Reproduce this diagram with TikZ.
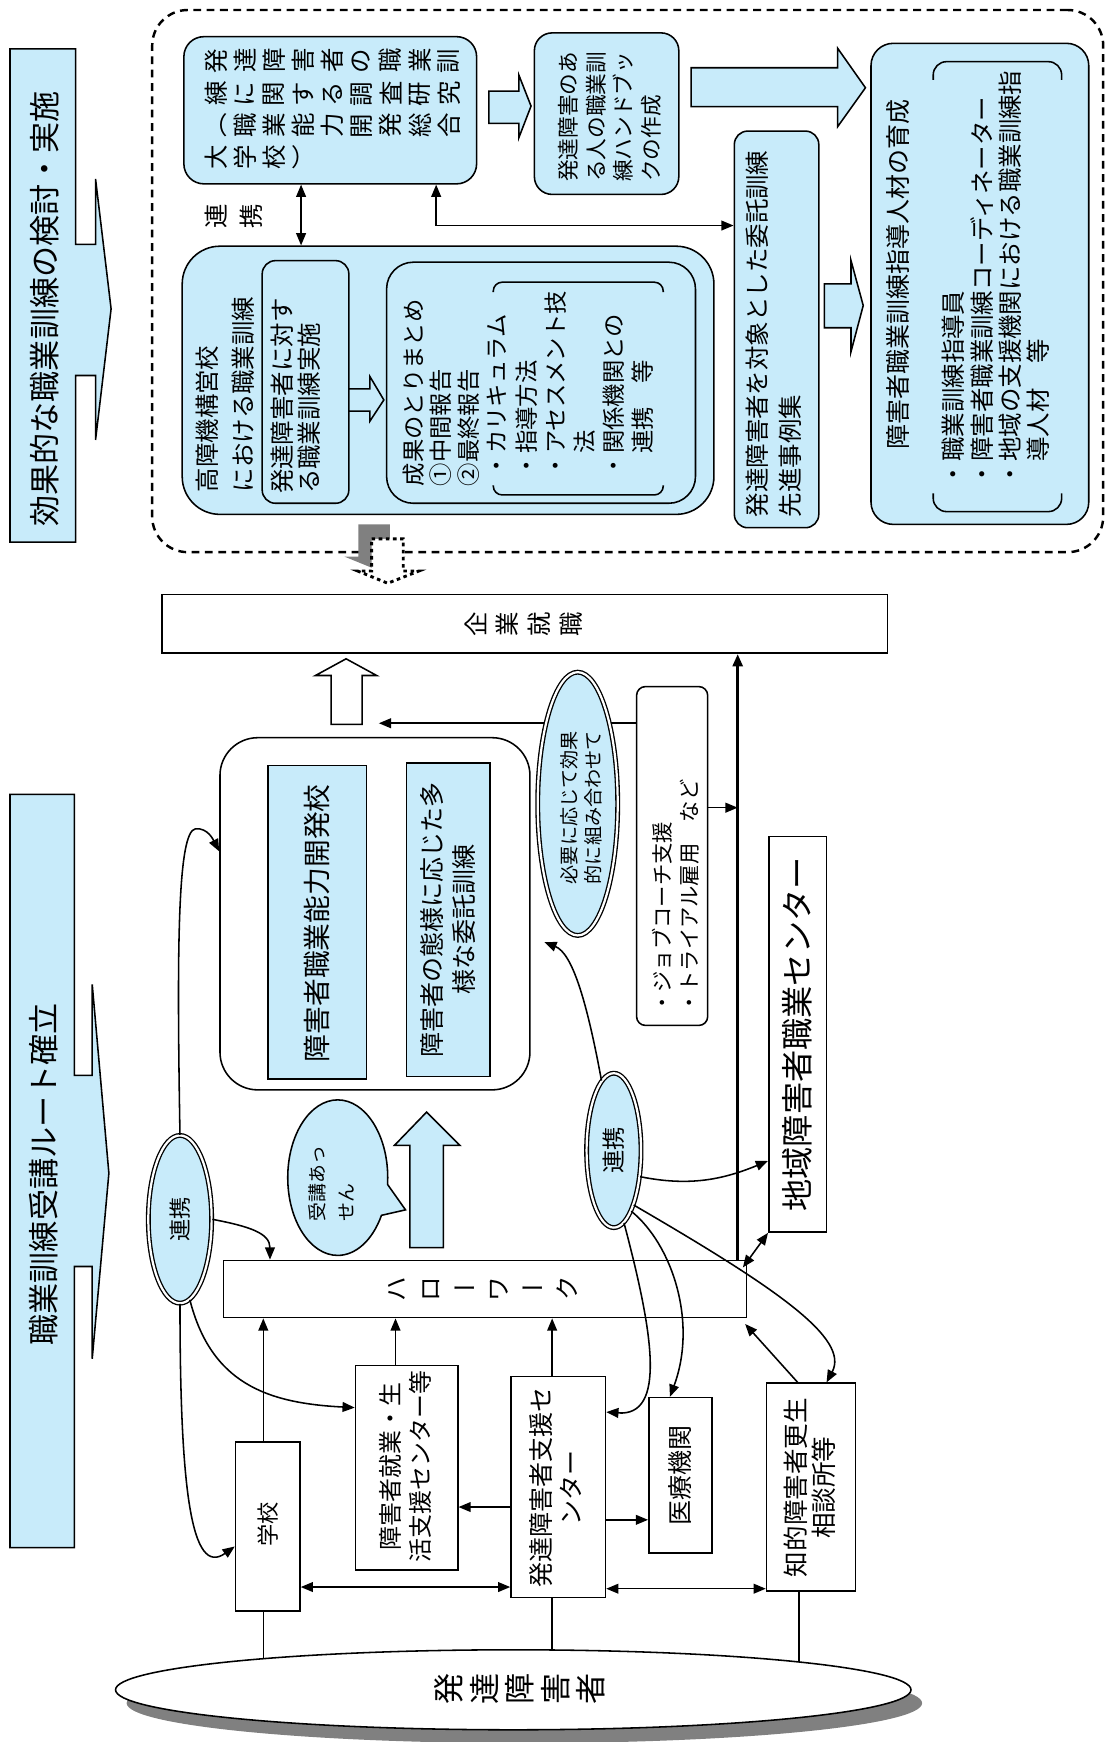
\documentclass[tikz,border=0pt]{standalone}
\usepackage{fontspec}
\setmainfont{Noto Sans CJK JP}
\usepackage{graphicx}
\usetikzlibrary{fit,shapes.geometric,shapes.callouts,arrows.meta,calc}
\definecolor{lb}{RGB}{200,235,250}
\definecolor{shd}{RGB}{128,128,128}
\ExplSyntaxOn
\cs_new_protected:Npn \rk_vchar:n #1
  {
    \str_case:nnF {#1}
      {
        {ー}{\makebox[1em]{ー}}
        {（}{\makebox[1em]{（}}
        {）}{\makebox[1em]{）}}
      }
      { \makebox[1em]{\rotatebox[origin=c]{90}{#1}} }
  }
\bool_new:N \l_rk_first_bool
\cs_new_protected:Npn \rk_vrow:nn #1#2
  {
    \bool_set_true:N \l_rk_first_bool
    \tl_map_inline:nn {#2}
      {
        \bool_if:NF \l_rk_first_bool { \hspace{#1} }
        \bool_set_false:N \l_rk_first_bool
        \rk_vchar:n {##1}
      }
  }
\NewDocumentCommand\vrow{mm}{\rk_vrow:nn{#1}{#2}}
\ExplSyntaxOff
\newcommand\myfs[2]{\fontsize{#1}{#2}\selectfont}
\tikzset{
  bx/.style={draw, line width=0.7pt, inner sep=0pt},
  bbx/.style={bx, fill=lb},
  vt/.style={rotate=90, inner sep=0pt, align=left},
  vtc/.style={rotate=90, inner sep=0pt, align=center},
  arr/.style={line width=0.7pt, -{Triangle[length=5.5pt,width=4.4pt]}},
  darr/.style={line width=0.7pt, {Triangle[length=5.5pt,width=4.4pt]}-{Triangle[length=5.5pt,width=4.4pt]}},
  blk/.style={draw, line width=0.7pt, line join=miter},
  dbl/.style={ellipse, draw, line width=0.6pt, double=white, double distance=1pt, fill=lb, inner sep=0pt},
  rowtxt/.style={inner sep=0pt},
}
\begin{document}
\begin{tikzpicture}[x=0.5pt,y=-0.5pt]
\useasboundingbox (0,0) rectangle (1001,1568);

% ---------- titles ----------
\draw[blk, fill=lb] (9,44) -- (68,44) -- (68,220) -- (86,220) -- (86,161) -- (100,278) -- (86,396) -- (86,338) -- (68,338) -- (68,488) -- (9,488) -- cycle;
\node[vtc, font=\myfs{14}{16}] (t1) at (40,278) {効果的な職業訓練の検討・実施};
\draw[blk, fill=lb] (9,715) -- (67,715) -- (67,968) -- (83,968) -- (83,886) -- (98,1056) -- (83,1223) -- (83,1140) -- (67,1140) -- (67,1393) -- (9,1393) -- cycle;
\node[vtc, font=\myfs{14}{16}] (t2) at (39,1057) {職業訓練受講ルート確立};

% ---------- upper dashed area ----------
\node[fit={(137,9) (993,497)}, inner sep=0pt, draw, line width=1.1pt, dash pattern=on 3.5pt off 2.5pt, rounded corners=16pt] (outer) {};

% Box A
\node[bbx, rounded corners=9pt, fit={(165.5,33) (429,165.5)}] (A) {};
\node[rowtxt, anchor=west, font=\myfs{11}{13}] (a1) at (183,55) {\vrow{2.1pt}{発達障害者の職業訓}};
\node[rowtxt, anchor=west, font=\myfs{11}{13}] (a2) at (183,84.5) {\vrow{2.1pt}{練に関する調査研究}};
\node[rowtxt, anchor=west, font=\myfs{11}{13}] (a3) at (183,113) {\vrow{2.1pt}{（職業能力開発総合}};
\node[rowtxt, anchor=west, font=\myfs{11}{13}] (a4) at (183,141.5) {\vrow{2.1pt}{大学校）}};
\node[rowtxt, font=\myfs{11}{13}] (rk) at (210.5,194.5) {\vrow{5pt}{連携}};

% Box B
\node[bbx, rounded corners=8pt, fit={(481,29.6) (611,175)}] (B) {};
\node[vt, anchor=west, font=\myfs{9.75}{12.35}] (bt) at (549,164) {発達障害のあ\\る人の職業訓\\練ハンドブッ\\クの作成};

% Box C
\node[bbx, rounded corners=6pt, fit={(661,118) (737,475)}] (C) {};
\node[vt, anchor=west, font=\myfs{11}{14.5}] (ct) at (696.5,466) {発達障害者を対象とした委託訓練\\先進事例集};

% Box D
\node[bbx, rounded corners=10pt, fit={(784,39) (980,472)}] (D) {};
\node[vt, anchor=west, font=\myfs{11.25}{13}] (dt) at (808,405) {障害者職業訓練指導人材の育成};
\node[vt, anchor=west, font=\myfs{11}{12.8}] (di) at (896.5,438) {・職業訓練指導員\\・障害者職業訓練コーディネーター\\・地域の支援機関における職業訓練指\\　導人材　等};
\draw[line width=0.7pt, rounded corners=6pt] (840,72) -- (840,55.5) -- (955.6,55.5) -- (955.6,72);
\draw[line width=0.7pt, rounded corners=6pt] (840,444) -- (840,460.5) -- (955.6,460.5) -- (955.6,444);

% Box E, F, G
\node[bbx, rounded corners=17pt, fit={(164,221.6) (642.6,463)}] (E) {};
\node[vt, anchor=west, font=\myfs{11}{16}] (et) at (202.5,443.5) {高障機構営校\\における職業訓練};
\node[bbx, rounded corners=6pt, fit={(236,234.6) (314,453)}] (F) {};
\node[vt, anchor=west, font=\myfs{11}{12}] (ft) at (266,445) {発達障害者に対す\\る職業訓練実施};
\node[bbx, rounded corners=12pt, fit={(348,236) (626,453)}] (G) {};
\node[vt, anchor=west, font=\myfs{10.5}{12.5}] (gt) at (397,438) {成果のとりまとめ\\①中間報告\\②最終報告};
\node[vt, anchor=west, font=\myfs{10.5}{13.1}] (gl) at (513.5,430) {・カリキュラム\\・指導方法\\・アセスメント技\\　法\\・関係機関との\\　連携　等};
\draw[line width=0.7pt, rounded corners=4pt] (444,263) -- (444,254) -- (597,254) -- (597,263);
\draw[line width=0.7pt, rounded corners=4pt] (444,437) -- (444,445.5) -- (597,445.5) -- (597,437);

% block arrows (upper)
\draw[blk, fill=lb] (440,82) -- (467,82) -- (467,67.5) -- (478,95.5) -- (467,124) -- (467,111) -- (440,111) -- cycle;
\draw[blk, fill=lb] (622,61) -- (754,61) -- (754,43.5) -- (779,79) -- (754,114) -- (754,96) -- (622,96) -- cycle;
\draw[blk, fill=lb] (742,255.5) -- (766,255.5) -- (766,234.5) -- (777,275) -- (766,316.5) -- (766,295) -- (742,295) -- cycle;
\draw[blk, fill=lb] (314,350) -- (333,350) -- (333,339) -- (345.5,360) -- (333,379) -- (333,370) -- (314,370) -- cycle;

% upper connectors
\coordinate (xae) at (271,0);
\coordinate (xca) at (392.6,0);
\coordinate (yca) at (0,203);
\draw[darr] (A.south -| xae) -- (E.north -| xae);
\draw[darr] (A.south -| xca) |- (C.west |- yca);

% dotted arrow with shadow
\path[fill=shd, shift={(-12,-13)}] (334.5,485) -- (363,485) -- (363,514) -- (377,514) -- (349,525) -- (322,514) -- (334.5,514) -- cycle;
\draw[fill=white, line width=1.3pt, dash pattern=on 1.6pt off 1.6pt] (334.5,485) -- (363,485) -- (363,514) -- (377,514) -- (349,525) -- (322,514) -- (334.5,514) -- cycle;

% ---------- lower area ----------
\node[bx, fit={(146,535) (799,588)}] (H) {};
\node[rowtxt, font=\myfs{11}{13}] (ht) at (471,562) {\vrow{3.35pt}{企業就職}};

\draw[blk, fill=white] (298,652) -- (298,608) -- (284,608) -- (311.5,593) -- (339,608) -- (326,608) -- (326,652) -- cycle;

\node[bx, fill=white, rounded corners=17pt, fit={(198,664) (477,981)}] (I) {};
\node[bbx, fit={(241,689) (330,971)}] (I1) {};
\node[vtc, font=\myfs{12.5}{14}] (i1t) at (285,831) {障害者職業能力開発校};
\node[bbx, fit={(366,687) (441,969)}] (I2) {};
\node[vtc, font=\myfs{11.25}{14.5}] (i2t) at (403,828) {障害者の態様に応じた多\\様な委託訓練};

\node[bx, fill=white, rounded corners=4pt, fit={(573,618) (637,923)}] (J) {};
\node[vt, anchor=west, font=\myfs{9.6}{12}] (jt) at (608,913) {・ジョブコーチ支援\\・トライアル雇用　など};

\node[bx, fit={(692,753) (744,1109)}] (R) {};
\node[vtc, font=\myfs{14.5}{16}] (rt) at (718,931) {地域障害者職業センター};

\node[bx, fit={(201,1134.5) (672,1186)}] (K) {};
\node[rowtxt, font=\myfs{11}{13}] (kt) at (434,1160) {\vrow{4.3pt}{ハローワーク}};

\node[ellipse callout, draw, fill=lb, line width=0.7pt, minimum width=45pt, minimum height=70pt, inner sep=0pt, callout absolute pointer={(365,1089)}, callout pointer arc=24] (bub) at (304,1060) {};
\node[vt, anchor=west, font=\myfs{8.5}{13}] (bubt) at (298,1100) {受講あっ\\せん};

\draw[blk, fill=lb] (369,1123) -- (369,1031) -- (355,1031) -- (384,1001) -- (414,1031) -- (399,1031) -- (399,1123) -- cycle;

\node[bx, fit={(212,1298) (270,1450)}] (L) {};
\node[vtc, font=\myfs{10}{12}] (lt) at (241,1372) {学校};
\node[bx, fit={(320,1229) (412,1413)}] (M) {};
\node[vtc, font=\myfs{10.75}{13.5}] (mt) at (364.5,1320) {障害者就業・生\\活支援センター等};
\node[bx, fit={(460,1239) (545,1438)}] (N) {};
\node[vtc, font=\myfs{11.25}{13.5}] (nt) at (500,1339) {発達障害者支援セ\\ンター};
\node[bx, fit={(584,1258) (641,1398)}] (O) {};
\node[vtc, font=\myfs{11.25}{13}] (ot) at (612.5,1328) {医療機関};
\node[bx, fit={(690,1245) (770,1432)}] (P) {};
\node[vtc, font=\myfs{11.5}{12.75}] (pt) at (729,1339) {知的障害者更生\\相談所等};

% coordinates for connectors
\coordinate (xv) at (664,0);
\coordinate (yj) at (0,651);
\coordinate (jend) at (341,651);
\coordinate (yk) at (0,727);
\coordinate (xl) at (237,0);
\coordinate (xm) at (356,0);
\coordinate (xn) at (497,0);
\coordinate (xp) at (719,0);
\coordinate (ynm) at (0,1356.5);
\coordinate (yln) at (0,1428.5);
\coordinate (yno) at (0,1368);
\coordinate (ynp) at (0,1430);
\coordinate (xpk) at (718,0);
\coordinate (xk2) at (243,0);
\coordinate (ym3) at (0,1267);
\coordinate (yl4) at (0,1392);
\coordinate (ci5) at (490,848);
\coordinate (yr6) at (0,1045);
\coordinate (xp7) at (744,0);
\coordinate (xo8) at (603,0);
\coordinate (yn9) at (0,1271);
\coordinate (yq) at (0,1515);

% straight connectors
\draw[arr, line width=1.3pt] (K.north -| xv) -- (H.south -| xv);
\draw[arr] (J.west |- yj) -- (jend);
\draw[arr] (J.east |- yk) -- (xv |- yk);
\draw[arr] (L.north -| xl) -- (K.south -| xl);
\draw[arr] (M.north -| xm) -- (K.south -| xm);
\draw[arr] (N.north -| xn) -- (K.south -| xn);
\draw[arr] (N.west |- ynm) -- (M.east |- ynm);
\draw[darr] (L.east |- yln) -- (N.west |- yln);
\draw[arr] (N.east |- yno) -- (O.west |- yno);
\draw[darr] (N.east |- ynp) -- (P.west |- ynp);
\draw[arr] (P.north -| xpk) -- ($(K.south east)+(-2,5)$);
\draw[darr] (R.south west) -- ($(K.north east)+(-4,7)$);

% ellipses
\node[dbl, minimum width=36pt, minimum height=118.5pt] (e1) at (520,723.5) {};
\node[vtc, font=\myfs{8.6}{11}] (e1t) at (523,727) {必要に応じて効果\\的に組み合わせて};
\node[dbl, minimum width=24.5pt, minimum height=69.5pt] (e2) at (552.5,1035.5) {};
\node[vtc, font=\myfs{10.5}{12}] (e2t) at (552.5,1035.5) {連携};
\node[dbl, minimum width=28.5pt, minimum height=75.5pt] (e3) at (162,1097.5) {};
\node[vtc, font=\myfs{10}{12}] (e3t) at (162,1097.5) {連携};

% curved connectors
\draw[arr] (e3.north) .. controls (159,850) and (160,748) .. (176,746) .. controls (187,745) and (192,756) .. ($(I.north west)+(0,103)$);
\draw[arr] (e3.east) .. controls (225,1104) and (243,1110) .. (K.north -| xk2);
\draw[arr] (e3.-83) .. controls (190,1245) and (240,1263) .. (M.west |- ym3);
\draw[arr] (e3.south) .. controls (162,1340) and (172,1420) .. (L.west |- yl4);
\draw[arr] (e2.100) .. controls (528,900) and (515,858) .. (ci5);
\draw[arr] (e2.-45) .. controls (620,1068) and (650,1062) .. (R.west |- yr6);
\draw[arr] (e2.-70) .. controls (700,1160) and (765,1205) .. (P.north -| xp7);
\draw[arr] (e2.-74) .. controls (605,1120) and (628,1190) .. (O.north -| xo8);
\draw[arr] (e2.-82) .. controls (588,1200) and (600,1275) .. (N.east |- yn9);

% lines down to the ellipse of people
\draw[line width=0.7pt] (L.south -| xl) -- (xl |- yq);
\draw[line width=0.7pt] (N.south -| xn) -- (xn |- yq);
\draw[line width=0.7pt] (P.south -| xp) -- (xp |- yq);

\node[ellipse, fill=shd, minimum width=358pt, minimum height=36pt, inner sep=0pt] (qs) at (472,1533) {};
\node[ellipse, draw, fill=white, line width=0.7pt, minimum width=358pt, minimum height=36pt, inner sep=0pt] (Q) at (462,1521) {};
\node[rowtxt, font=\myfs{14}{16}] (qt) at (468,1520) {\vrow{2pt}{発達障害者}};
\end{tikzpicture}
\end{document}
